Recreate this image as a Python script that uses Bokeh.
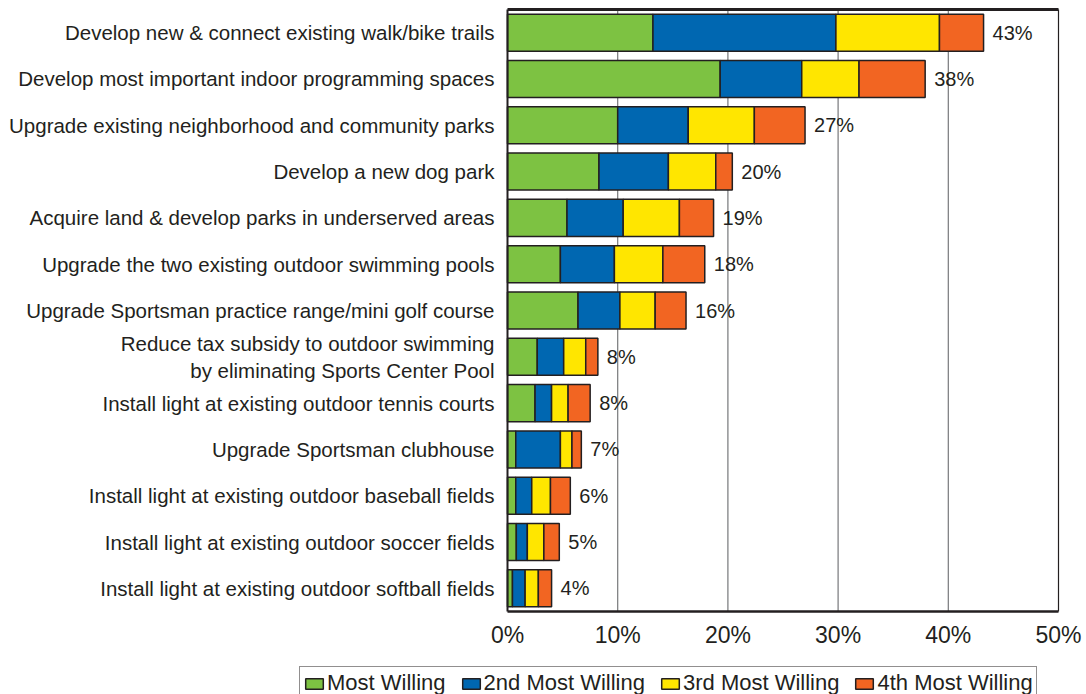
from bokeh.plotting import figure
from bokeh.models import (ColumnDataSource, Range1d, FixedTicker,
                          PrintfTickFormatter, Legend, LegendItem)
from bokeh.core.properties import value
from bokeh.embed import file_html
from bokeh.resources import INLINE

categories = [
    "Develop new & connect existing walk/bike trails",
    "Develop most important indoor programming spaces",
    "Upgrade existing neighborhood and community parks",
    "Develop a new dog park",
    "Acquire land & develop parks in underserved areas",
    "Upgrade the two existing outdoor swimming pools",
    "Upgrade Sportsman practice range/mini golf course",
    "Reduce tax subsidy to outdoor swimming\nby eliminating Sports Center Pool",
    "Install light at existing outdoor tennis courts",
    "Upgrade Sportsman clubhouse",
    "Install light at existing outdoor baseball fields",
    "Install light at existing outdoor soccer fields",
    "Install light at existing outdoor softball fields",
]
most_willing = [13.2, 19.3, 10.0, 8.3, 5.4, 4.8, 6.4, 2.7, 2.5, 0.75, 0.75, 0.8, 0.45]
second_most = [16.6, 7.4, 6.4, 6.3, 5.1, 4.9, 3.8, 2.4, 1.5, 4.05, 1.45, 1.0, 1.15]
third_most = [9.4, 5.2, 6.0, 4.3, 5.1, 4.4, 3.2, 2.0, 1.5, 1.05, 1.7, 1.5, 1.2]
fourth_most = [4.0, 6.0, 4.6, 1.5, 3.1, 3.8, 2.8, 1.1, 2.0, 0.85, 1.8, 1.4, 1.2]
total_labels = ["43%", "38%", "27%", "20%", "19%", "18%", "16%", "8%", "8%", "7%", "6%", "5%", "4%"]
series_names = ["Most Willing", "2nd Most Willing", "3rd Most Willing", "4th Most Willing"]
x_ticks = [0, 10, 20, 30, 40, 50]

FONT = "Liberation Sans"
TEXT = "#231f20"
GRID = "#77787b"
colors = ["#7dc242", "#0067b1", "#ffe600", "#f26522"]

n = len(categories)
ypos = [n - 1 - i for i in range(n)]
totals = [a + b + c + d for a, b, c, d in zip(most_willing, second_most, third_most, fourth_most)]
src = ColumnDataSource(dict(y=ypos, s1=most_willing, s2=second_most, s3=third_most,
                            s4=fourth_most, total=totals, label=total_labels))

W, H = 1086, 694
PLOT_L, PLOT_R, PLOT_T, PLOT_B = 507, 1058, 9, 611   # pixel box of the plotting area
xmin, xmax = x_ticks[0], x_ticks[-1]
px_x = (PLOT_R - PLOT_L) / (xmax - xmin)
px_y = (PLOT_B - PLOT_T) / n
x_range = Range1d(xmin - PLOT_L / px_x, xmax + (W - PLOT_R) / px_x)
y_range = Range1d(-0.5 - (H - PLOT_B) / px_y, n - 0.5 + PLOT_T / px_y)

p = figure(width=W, height=H, x_range=x_range, y_range=y_range,
           output_backend="svg", toolbar_location=None, min_border=0)
p.xgrid.visible = False
p.ygrid.visible = False
p.outline_line_color = None

# gridlines and frame border
gx = x_ticks[1:-1]
p.segment(x0=gx, y0=[-0.5] * len(gx), x1=gx, y1=[n - 0.5] * len(gx),
          line_color=GRID, line_width=1.2)
p.segment(x0=[xmax], y0=[-0.5], x1=[xmax], y1=[n - 0.5], line_color=TEXT, line_width=1.2)
p.segment(x0=[xmin], y0=[n - 0.5], x1=[xmax], y1=[n - 0.5], line_color=TEXT, line_width=3)

renderers = p.hbar_stack(["s1", "s2", "s3", "s4"], y="y", height=0.8, color=colors,
                         line_color=TEXT, line_width=1.5, source=src)

p.text(x="total", y="y", text="label", x_offset=9, text_baseline="middle",
       text_font=value(FONT), text_font_size="20px", text_color=TEXT, source=src)

xa = p.xaxis[0]
xa.fixed_location = -0.5
xa.bounds = (xmin, xmax)
xa.ticker = FixedTicker(ticks=x_ticks)
xa.formatter = PrintfTickFormatter(format="%d%%")
xa.major_tick_line_color = None
xa.minor_tick_line_color = None
xa.major_label_text_font = FONT
xa.major_label_text_font_size = "23px"
xa.major_label_text_color = TEXT
xa.axis_line_width = 2.5
xa.axis_line_color = TEXT
xa.major_label_standoff = 4

ya = p.yaxis[0]
ya.fixed_location = xmin
ya.bounds = (-0.5, n - 0.5)
ya.ticker = FixedTicker(ticks=ypos)
ya.major_label_overrides = {y: c for y, c in zip(ypos, categories)}
ya.major_tick_line_color = None
ya.minor_tick_line_color = None
ya.major_label_text_font = FONT
ya.major_label_text_font_size = "20.5px"
ya.major_label_text_color = TEXT
ya.axis_line_width = 2
ya.axis_line_color = TEXT
ya.major_label_standoff = 7

legend = Legend(items=[LegendItem(label=s, renderers=[r]) for s, r in zip(series_names, renderers)],
                orientation="horizontal", location=(299, -6),
                glyph_width=22, glyph_height=13, label_standoff=2, spacing=14,
                padding=3, margin=0, border_line_color=TEXT, border_line_width=1,
                label_text_font=FONT, label_text_font_size="22px", label_text_color=TEXT,
                label_height=22, background_fill_alpha=1)
p.add_layout(legend)

open("out.html", "w").write(file_html(p, INLINE))
